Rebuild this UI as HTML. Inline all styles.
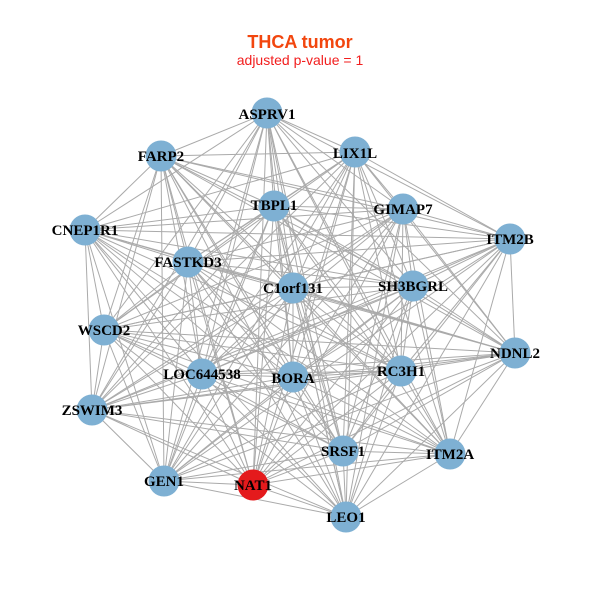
<!DOCTYPE html>
<html><head><meta charset="utf-8"><style>
html,body{margin:0;padding:0;background:#fff;}
svg{display:block}
.l{font-family:"Liberation Serif",serif;font-weight:bold;font-size:15px;fill:#000;text-anchor:middle;dominant-baseline:central}
</style></head><body>
<svg id="s" width="600" height="600" viewBox="0 0 600 600">
<text x="300" y="48" text-anchor="middle" font-family="Liberation Sans,sans-serif" font-weight="bold" font-size="18" fill="#f2460e">THCA tumor</text>
<text x="300" y="65" text-anchor="middle" font-family="Liberation Sans,sans-serif" font-size="14" fill="#f21e1e">adjusted p-value = 1</text>
<g id="e" stroke="#aaaaaa" stroke-width="1"></g>
<g id="n"></g>
<g>
<text class="l" x="267" y="115">ASPRV1</text>
<text class="l" x="355" y="154">LIX1L</text>
<text class="l" x="161" y="157">FARP2</text>
<text class="l" x="274" y="206">TBPL1</text>
<text class="l" x="403" y="210">GIMAP7</text>
<text class="l" x="85" y="231">CNEP1R1</text>
<text class="l" x="510" y="240">ITM2B</text>
<text class="l" x="188" y="263">FASTKD3</text>
<text class="l" x="293" y="289">C1orf131</text>
<text class="l" x="413" y="287">SH3BGRL</text>
<text class="l" x="104" y="331">WSCD2</text>
<text class="l" x="515" y="354">NDNL2</text>
<text class="l" x="202" y="375">LOC644538</text>
<text class="l" x="293" y="379">BORA</text>
<text class="l" x="401" y="372">RC3H1</text>
<text class="l" x="92" y="411">ZSWIM3</text>
<text class="l" x="343" y="452">SRSF1</text>
<text class="l" x="450" y="455">ITM2A</text>
<text class="l" x="164" y="482">GEN1</text>
<text class="l" x="253" y="486">NAT1</text>
<text class="l" x="346" y="518">LEO1</text>
</g>
</svg>
<script>
var P=[[267,113],[355,152],[161,156],[274,206],[403,209],[85,230],[510,239],[188,262],[293,288],[413,286],[104,330],[515,353],[202,374],[293,377],[401,371],[92,410],[343,451],[450,454],[164,481],[253,485],[346,517]];
var ns="http://www.w3.org/2000/svg",e=document.getElementById("e"),n=document.getElementById("n");
for(var i=0;i<P.length;i++)for(var j=i+1;j<P.length;j++){var l=document.createElementNS(ns,"line");l.setAttribute("x1",P[i][0]);l.setAttribute("y1",P[i][1]);l.setAttribute("x2",P[j][0]);l.setAttribute("y2",P[j][1]);e.appendChild(l);}
for(var i=0;i<P.length;i++){var c=document.createElementNS(ns,"circle");c.setAttribute("cx",P[i][0]);c.setAttribute("cy",P[i][1]);c.setAttribute("r",15.5);c.setAttribute("fill",i==19?"#e41a1c":"#7eb0d3");n.appendChild(c);}
</script>
</body></html>
